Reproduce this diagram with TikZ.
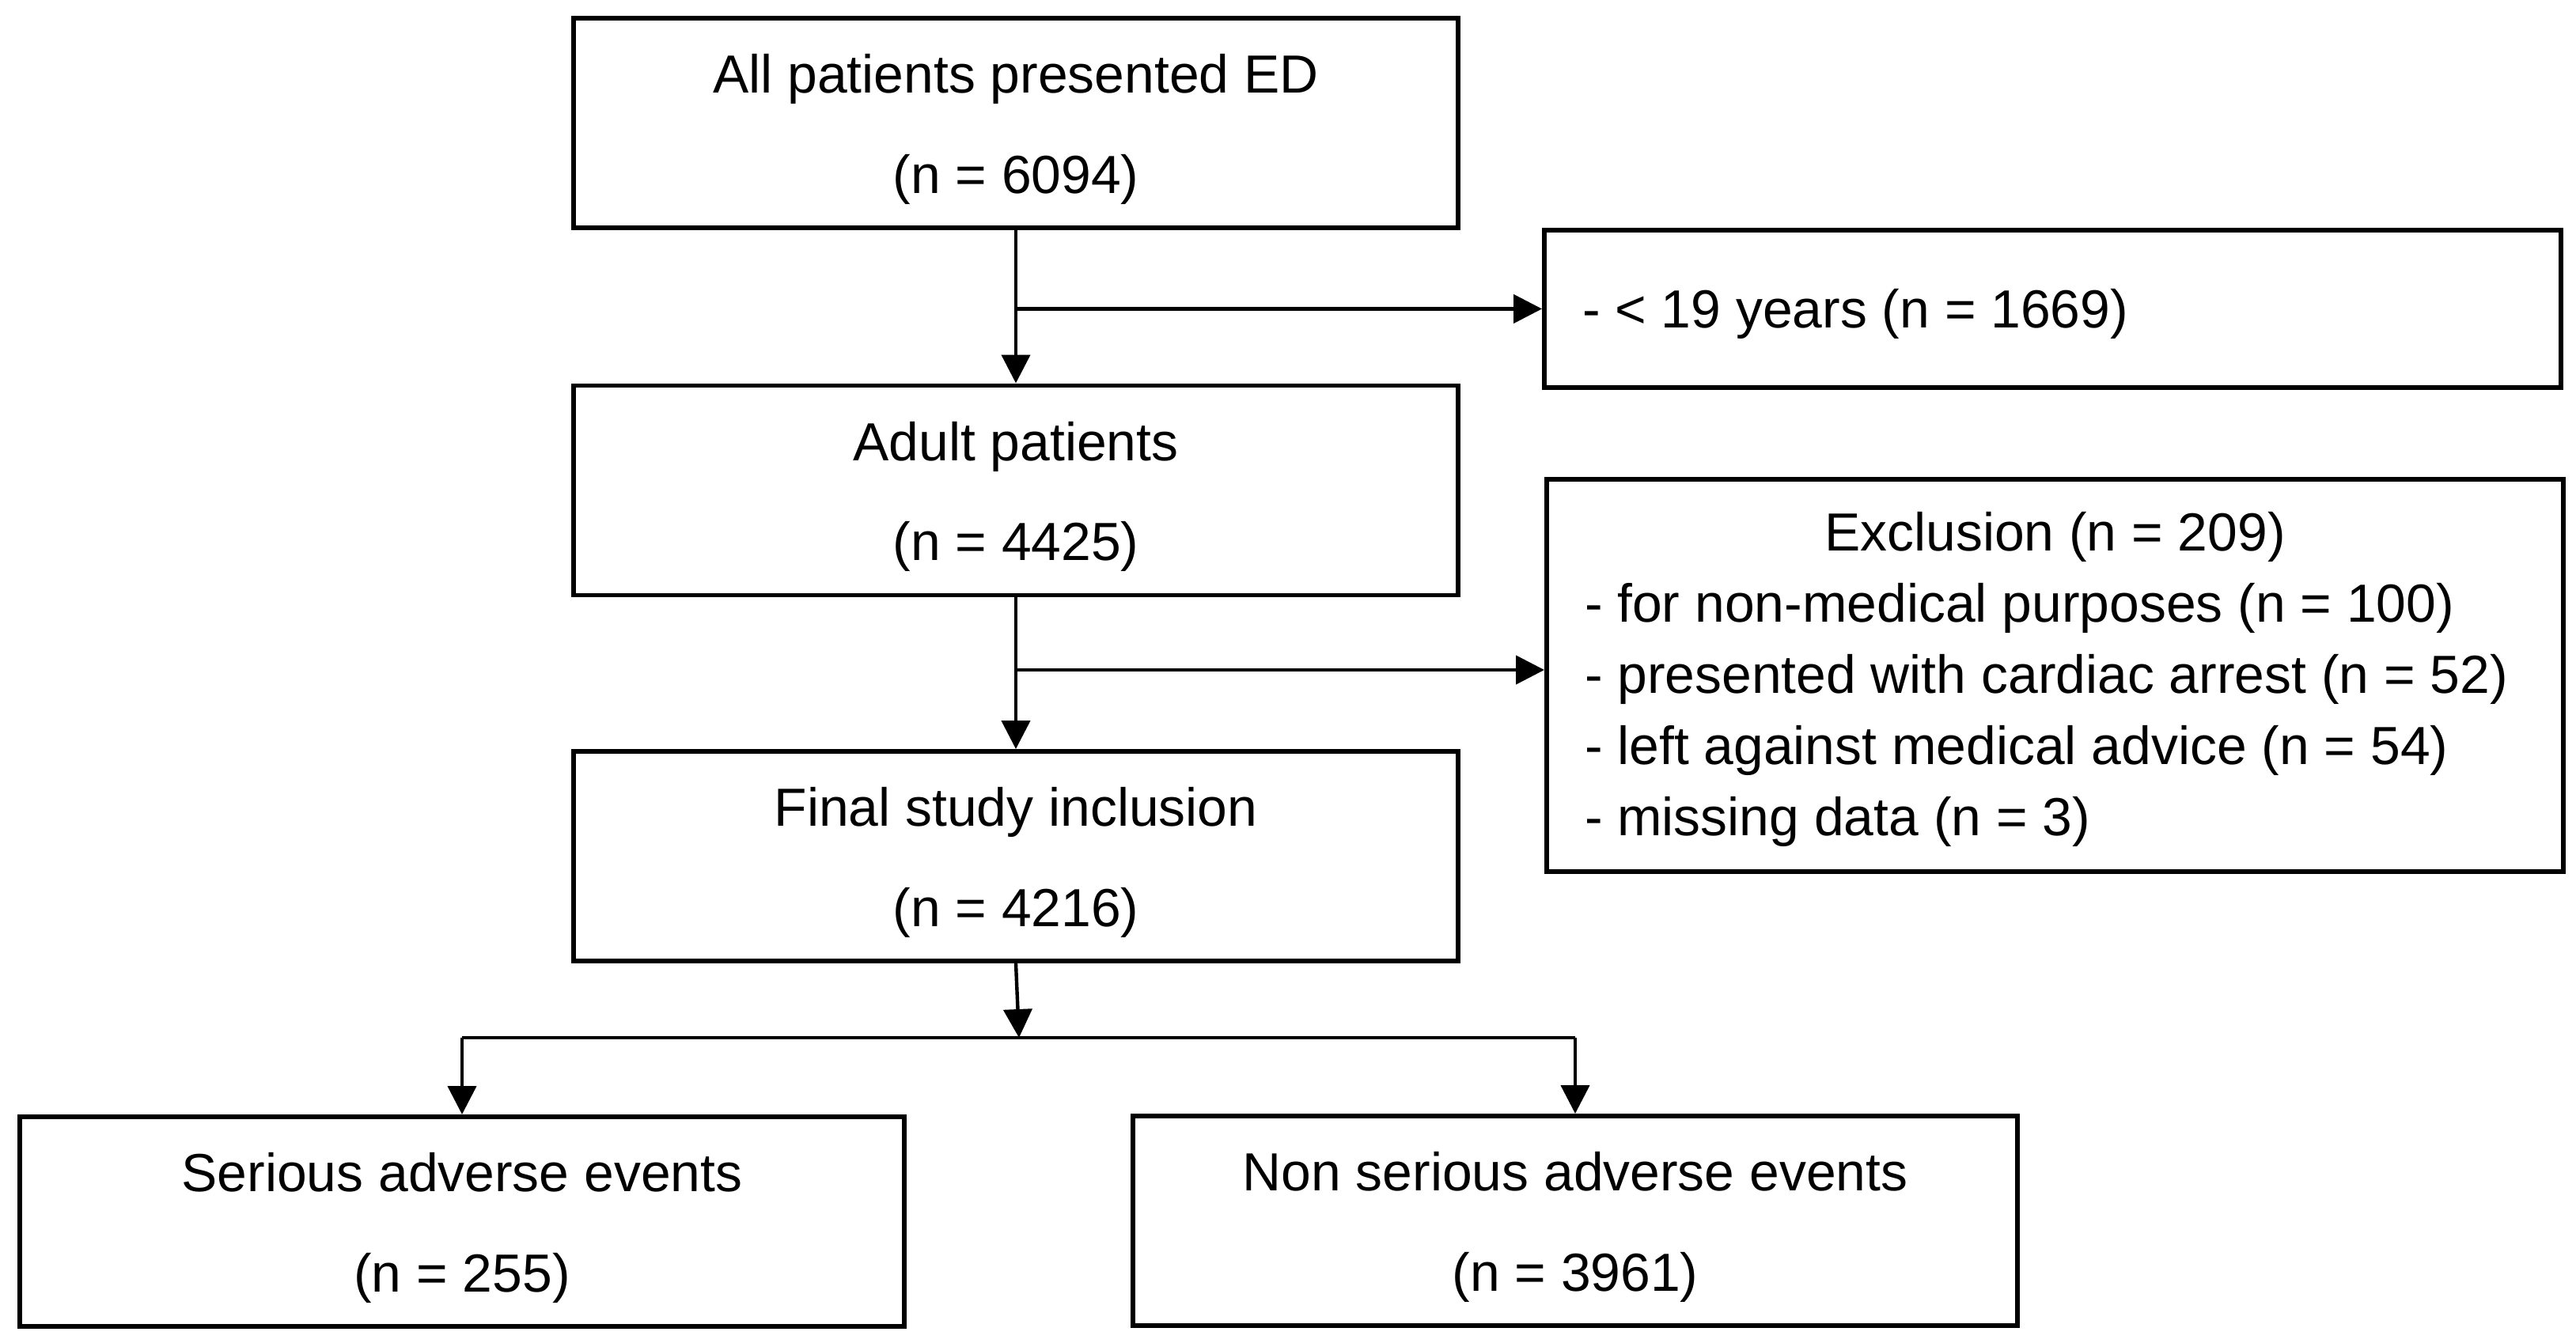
\documentclass[tikz,border=0pt]{standalone}
\usepackage{fontspec}
\setmainfont{Liberation Sans}
\usetikzlibrary{arrows.meta}
\newcommand{\twolines}[2]{\begin{tabular}{@{}c@{}}#1\\#2\end{tabular}}
\begin{document}
\begin{tikzpicture}[
  every node/.style={font=\fontsize{19.3}{36}\selectfont},
  mainbox/.style={draw, line width=1.7pt, minimum width=11.18cm, minimum height=2.65cm, inner sep=0pt},
  sidebox/.style={draw, line width=1.7pt, minimum width=12.85cm, inner xsep=0.48cm, inner ysep=0pt},
  conn/.style={line width=1.25pt},
  arr/.style={conn, -{Triangle[length=0.36cm, width=0.36cm]}}
]
\useasboundingbox (0,0) rectangle (32.56,-16.98);
\node[mainbox] (b1) at (12.84,-1.555) {\twolines{All patients presented ED}{(n = 6094)}};
\node[mainbox] (b2) at (12.84,-6.20) {\twolines{Adult patients}{(n = 4425)}};
\node[mainbox] (b3) at (12.84,-10.825) {\twolines{Final study inclusion}{(n = 4216)}};
\node[mainbox] (b4) at (5.84,-15.445) {\twolines{Serious adverse events}{(n = 255)}};
\node[mainbox] (b5) at (19.91,-15.435) {\twolines{Non serious adverse events}{(n = 3961)}};
\node[sidebox, minimum height=1.99cm] (r1) at (25.945,-3.905)
  {\raisebox{-0.06cm}[\height][\depth]{\parbox{11.89cm}{- < 19 years (n = 1669)}}};
\node[sidebox, minimum height=4.96cm, font=\fontsize{19.3}{25.6}\selectfont] (r2) at (25.975,-8.54)
  {\raisebox{-0.05cm}[\height][\depth]{\parbox{11.89cm}{%
   \makebox[\linewidth]{Exclusion (n = 209)}\\
   \mbox{- for non-medical purposes (n = 100)}\\
   \mbox{- presented with cardiac arrest (n = 52)}\\
   \mbox{- left against medical advice (n = 54)}\\
   \mbox{- missing data (n = 3)}}}};
\draw[arr] (b1.south) -- (b2.north);
\draw[arr] (b1.south |- r1.west) -- (r1.west);
\draw[arr] (b2.south) -- (b3.north);
\draw[arr] (b2.south |- 0,-8.47) -- (r2.west |- 0,-8.47);
\coordinate (j3) at (12.88,-13.12);
\draw[arr] (b3.south) -- (j3);
\draw[conn] (b4.north |- j3) -- (b5.north |- j3);
\draw[arr] (b4.north |- j3) -- (b4.north);
\draw[arr] (b5.north |- j3) -- (b5.north);
\end{tikzpicture}
\end{document}
